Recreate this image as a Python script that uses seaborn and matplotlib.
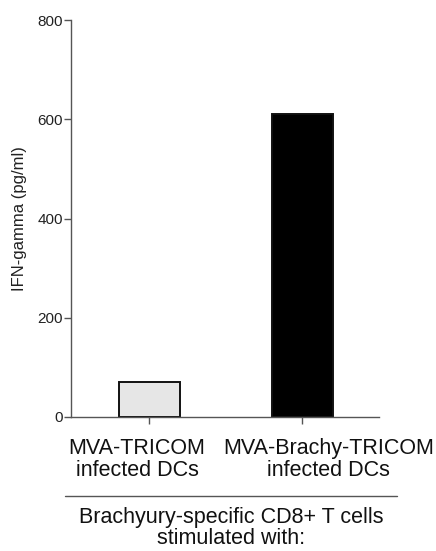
import matplotlib.pyplot as plt
import matplotlib.transforms as mtransforms
import pandas as pd
import seaborn as sns

# Values
groups = ["MVA-TRICOM\ninfected DCs", "MVA-Brachy-TRICOM\ninfected DCs"]
ifn_gamma = [70, 610]
bar_colors = ["#e6e6e6", "#000000"]
y_ticks = [0, 200, 400, 600, 800]

df = pd.DataFrame({"group": groups, "ifn": ifn_gamma})

sns.set_theme(style="ticks")
plt.rcParams["font.family"] = ["Liberation Sans", "DejaVu Sans"]

fig = plt.figure(figsize=(4.36, 5.51), dpi=100)
ax = fig.add_axes([71 / 436, 1 - 417 / 551, (379 - 71) / 436, (417 - 20) / 551])

sns.barplot(data=df, x="group", y="ifn", hue="group", palette=bar_colors,
            width=0.4, edgecolor="#111111", linewidth=1.4, legend=False, ax=ax)

ax.set_xlim(-0.51, 1.5)
ax.set_ylim(0, 800)
ax.set_yticks(y_ticks)
ax.set_xlabel("")
ax.set_ylabel("IFN-gamma (pg/ml)", fontsize=12, color="#222222", labelpad=7)

for side in ["top", "right"]:
    ax.spines[side].set_visible(False)
for side in ["left", "bottom"]:
    ax.spines[side].set_color("#555555")
    ax.spines[side].set_linewidth(1.0)

ax.tick_params(axis="y", labelsize=11, length=5, width=1.0, color="#555555", labelcolor="#222222", pad=1)
ax.tick_params(axis="x", labelsize=15.5, length=5, width=1.0, color="#555555", labelcolor="#111111", pad=10)

# category labels sit off-centre in the reference, pushed apart
shifts_px = [-12, 26]
for lbl, dx in zip(ax.get_xticklabels(), shifts_px):
    lbl.set_linespacing(1.1)
    lbl.set_transform(lbl.get_transform() + mtransforms.ScaledTranslation(dx / 100, 0, fig.dpi_scale_trans))

# Grouping line and caption below the category labels
fig.add_artist(plt.Line2D([65 / 436, 397 / 436], [1 - 496 / 551, 1 - 496 / 551],
                          color="#555555", linewidth=1.0))
fig.text(231 / 436, 1 - 528 / 551, "Brachyury-specific CD8+ T cells\nstimulated with:",
         ha="center", va="center", fontsize=15.5, color="#111111", linespacing=1.05)

fig.savefig("out.png", dpi=100)
